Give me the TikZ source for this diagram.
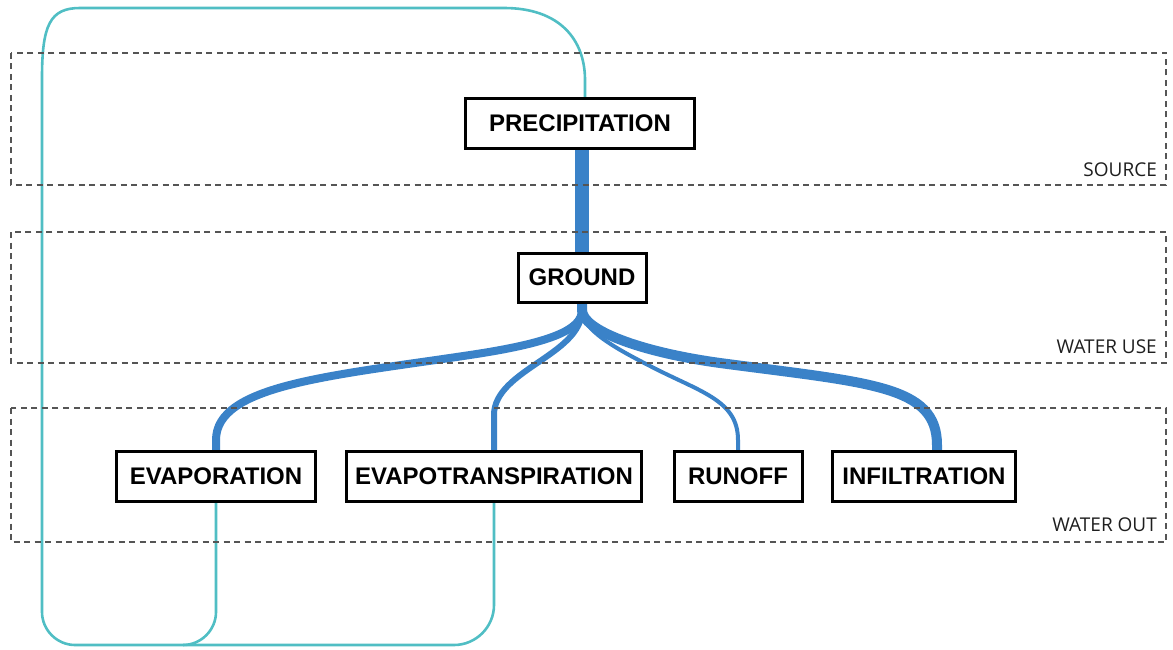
\documentclass[tikz,border=0pt]{standalone}
\usepackage{fontspec}
\setmainfont{Liberation Sans}
\newfontfamily\zonefont{Open Sans}
\usetikzlibrary{backgrounds}
\definecolor{flowblue}{RGB}{58,130,200}
\definecolor{loopcyan}{RGB}{80,190,196}
\definecolor{zonegray}{RGB}{85,85,85}
\definecolor{labelgray}{RGB}{30,30,30}
\begin{document}
\begin{tikzpicture}[x=1pt,y=-1pt,
  box/.style={draw=black, line width=3pt, fill=white, inner sep=0pt,
    font=\fontsize{24}{26}\selectfont\bfseries},
  zone/.style={draw=zonegray, line width=1.9pt, dash pattern=on 6pt off 4.5pt},
  zonelabel/.style={anchor=base east, text=labelgray, inner sep=0pt,
    font=\zonefont\fontsize{19}{22}\selectfont},
  flow/.style={draw=flowblue, line cap=butt},
  loopline/.style={draw=loopcyan, line width=2.6pt, line join=round}]
\useasboundingbox (0,0) rectangle (1173,650);

% nodes
\node[box, minimum width=229pt, minimum height=50pt] (prec) at (580,123.5) {PRECIPITATION};
\node[box, minimum width=128pt, minimum height=49pt] (ground) at (582,277.5) {GROUND};
\node[box, minimum width=199pt, minimum height=50pt] (evap) at (216,476.5) {EVAPORATION};
\node[box, minimum width=295pt, minimum height=50pt] (evapo) at (494,476.5) {EVAPOTRANSPIRATION};
\node[box, minimum width=128pt, minimum height=50pt] (runoff) at (738,476.5) {RUNOFF};
\node[box, minimum width=183pt, minimum height=50pt] (infil) at (924,476.5) {INFILTRATION};

% zone labels
\node[zonelabel] (lsource) at (1157,176) {SOURCE};
\node[zonelabel] (luse) at (1157,353) {WATER USE};
\node[zonelabel] (lout) at (1157,531) {WATER OUT};

\begin{scope}[on background layer]
  % main flow
  \draw[flow, line width=14pt] (ground.north) -- (ground.north |- prec.south);
  % branches
  \draw[flow, line width=8pt] (ground.south) -- (582,310) .. controls (582,330) and (550,343) .. (470,355)
     .. controls (330,376) and (216,385) .. (216,440) -- (evap.north);
  \draw[flow, line width=6pt] (ground.south) -- (582,310) .. controls (582,355) and (494,370) .. (494,415) -- (evapo.north);
  \draw[flow, line width=4pt] (ground.south) -- (582,310) .. controls (582,330) and (615,348) .. (650,366)
     .. controls (700,392) and (738,400) .. (738,440) -- (runoff.north);
  \draw[flow, line width=10pt] (ground.south) -- (582,310) .. controls (582,330) and (640,352) .. (720,363)
     .. controls (870,383) and (937,385) .. (937,445) -- ([xshift=13pt]infil.north);

  % return loops
  \draw[loopline] (evap.south) -- (216,612) .. controls (216,630) and (201,645) .. (183,645)
     -- (75,645) .. controls (57,645) and (42,630) .. (42,612)
     -- (42,78) .. controls (42,25) and (50,8) .. (80,8)
     -- (504,8) .. controls (560,8) and (585,40) .. (585,80)
     -- ([xshift=5pt]prec.north);
  \draw[loopline] (evapo.south) -- (494,605) .. controls (494,627) and (476,645) .. (454,645)
     -- (183,645);

  % zones
  \draw[zone] (11,53) rectangle (1166,185);
  \draw[zone] (11,232) rectangle (1166,363);
  \draw[zone] (11,408) rectangle (1166,542);
\end{scope}
\end{tikzpicture}
\end{document}
